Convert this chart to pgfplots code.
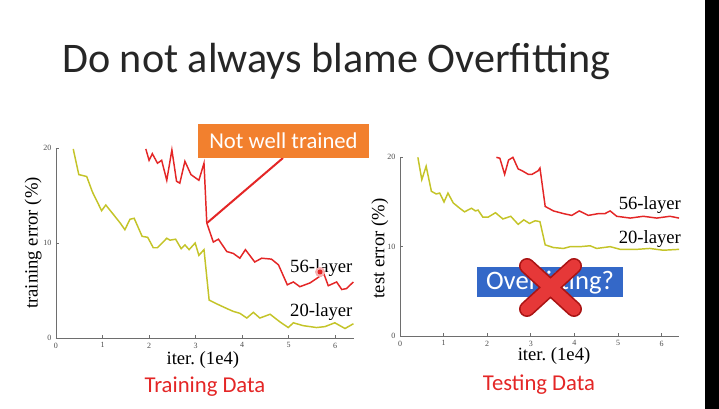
\documentclass[border=0pt]{standalone}
\usepackage{pgfplots}
\pgfplotsset{compat=1.18}
\usepackage{fontspec}
\setmainfont{Liberation Serif}
\newfontfamily\calibri{Carlito}
\definecolor{myred}{RGB}{228,38,38}
\definecolor{myyel}{RGB}{196,196,40}
\definecolor{orangebox}{RGB}{242,128,46}
\definecolor{bluebox}{RGB}{52,104,200}
\definecolor{xred}{RGB}{230,56,56}
\definecolor{xdark}{RGB}{170,20,20}
\definecolor{axgray}{RGB}{110,110,110}

\pgfplotsset{slidestyle/.style={
  scale only axis, axis lines=left,
  axis line style={-, draw=axgray, line width=0.6pt},
  xmin=0, xmax=6.4, ymin=0, ymax=20,
  xtick={0,...,6}, ytick={0,10,20},
  tick align=inside, major tick length=2pt,
  tick style={axgray, line width=0.5pt},
  tick label style={font=\fontsize{6}{6}\selectfont, text=black!70},
  /pgf/number format/assume math mode=true,
  label style={font=\fontsize{14}{14}\selectfont},
  clip=false,
}}

\begin{document}
\begin{tikzpicture}
\begin{scope}[x=0.75pt,y=-0.75pt]
  \useasboundingbox (0,0) rectangle (719,409);
  \fill[white] (0,0) rectangle (719,409);
  \fill[black] (705,0) rectangle (719,409);
  \node[anchor=base west, inner sep=0pt, text=black!85] at (62,73)
    {\calibri\fontsize{31.6}{31.6}\selectfont Do not always blame Overfitting};
\end{scope}

% Training error chart
\begin{axis}[slidestyle, at={(42pt,-253.5pt)}, anchor=south west,
  width=223.4pt, height=142.5pt,
  xlabel={iter.\ (1e4)}, ylabel={training error (\%)},
  xlabel style={at={(axis description cs:0.493,-0.116)}, anchor=center},
  ylabel style={at={(axis description cs:-0.077,0.5)}, anchor=center, rotate=0},
]
\addplot[myyel, line width=1.1pt] coordinates {
(0.37,19.9)(0.49,17.2)(0.66,17.0)(0.78,15.4)(0.98,13.4)(1.07,14.0)(1.25,12.9)(1.38,12.1)
(1.48,11.4)(1.59,12.5)(1.68,12.6)(1.85,10.7)(1.97,10.6)(2.09,9.5)(2.18,9.5)(2.38,10.5)
(2.45,10.3)(2.57,10.4)(2.69,9.4)(2.77,9.8)(2.86,9.3)(2.99,10.0)(3.07,8.7)(3.18,9.3)
(3.29,4.0)(3.45,3.6)(3.67,3.1)(3.81,2.8)(3.95,2.6)(4.10,2.1)(4.24,2.7)(4.38,2.1)
(4.60,2.5)(4.81,1.7)(4.99,1.1)(5.10,1.6)(5.31,1.3)(5.60,1.1)(5.78,1.2)(5.99,1.6)
(6.21,1.0)(6.39,1.5)};
\addplot[myred, line width=1.1pt] coordinates {
(1.93,19.9)(2.00,18.7)(2.07,19.4)(2.18,18.4)(2.27,18.7)(2.38,16.6)(2.49,19.8)(2.59,16.5)
(2.66,16.3)(2.77,18.6)(2.90,17.2)(3.07,16.6)(3.18,18.4)(3.24,12.1)(3.38,10.1)(3.49,10.4)
(3.67,9.1)(3.81,8.9)(3.95,8.4)(4.07,9.3)(4.27,8.0)(4.42,8.4)(4.63,8.3)(4.78,7.7)
(4.97,5.6)(5.10,5.9)(5.24,5.4)(5.46,5.8)(5.67,6.5)(5.76,6.7)(5.85,5.5)(6.03,5.9)
(6.14,5.1)(6.24,5.2)(6.39,5.9)};
\node[font=\fontsize{14}{14}\selectfont] at (axis cs:5.70,7.4) {56-layer};
\node[font=\fontsize{14}{14}\selectfont] at (axis cs:5.70,2.7) {20-layer};
\end{axis}

% Test error chart
\begin{axis}[slidestyle, at={(300pt,-252pt)}, anchor=south west,
  width=209.3pt, height=134pt,
  xlabel={iter.\ (1e4)}, ylabel={test error (\%)},
  xlabel style={at={(axis description cs:0.552,-0.112)}, anchor=center},
  ylabel style={at={(axis description cs:-0.072,0.49)}, anchor=center, rotate=0},
]
\addplot[myyel, line width=1.1pt] coordinates {
(0.41,20.0)(0.50,17.5)(0.60,19.0)(0.72,16.2)(0.83,15.9)(0.91,16.0)(1.01,15.0)(1.10,16.0)
(1.22,14.9)(1.37,14.3)(1.48,13.9)(1.64,14.3)(1.73,14.0)(1.79,14.1)(1.90,13.3)(2.02,13.3)
(2.19,13.8)(2.36,13.1)(2.54,13.4)(2.71,12.5)(2.84,13.0)(2.97,12.6)(3.10,12.9)(3.21,12.8)
(3.33,10.2)(3.52,9.9)(3.75,9.8)(3.90,10.0)(4.13,10.0)(4.36,10.1)(4.51,9.8)(4.82,10.0)
(5.05,9.7)(5.43,9.7)(5.73,9.8)(6.04,9.6)(6.40,9.7)};
\addplot[myred, line width=1.1pt] coordinates {
(2.21,20.0)(2.29,19.9)(2.40,18.1)(2.49,19.7)(2.59,20.0)(2.71,18.7)(2.80,18.5)(2.94,18.1)
(3.03,18.1)(3.17,18.5)(3.21,18.8)(3.33,14.5)(3.52,14.0)(3.75,13.7)(3.94,13.5)(4.11,14.0)
(4.32,13.5)(4.55,13.7)(4.70,13.7)(4.82,14.0)(4.97,13.4)(5.28,13.2)(5.58,13.4)(5.89,13.2)
(6.19,13.4)(6.40,13.2)};
\node[font=\fontsize{14}{14}\selectfont] at (axis cs:5.73,14.67) {56-layer};
\node[font=\fontsize{14}{14}\selectfont] at (axis cs:5.73,10.86) {20-layer};
\end{axis}

\begin{scope}[x=0.75pt,y=-0.75pt]
  % annotation: not well trained
  \draw[myred, line width=1.5pt] (207,223) -- (283,158);
  \fill[orangebox] (198,124) rectangle (369,158);
  \node[text=white, font=\calibri\fontsize{17}{17}\selectfont] at (283.5,141) {Not well trained};
  % laser dot
  \fill[myred!35] (320,272) circle (5);
  \fill[myred] (320,272) circle (2.5);
  % Overfitting box
  \fill[bluebox] (477,267) rectangle (623,297);
  \node[text=white, font=\calibri\fontsize{20}{20}\selectfont] at (550,283) {Overfitting?};
  \draw[xdark, line width=12pt, line cap=round] (527,266) -- (574,309) (574,266) -- (527,309);
  \draw[xred, line width=9.5pt, line cap=round] (527,266) -- (574,309) (574,266) -- (527,309);
  % captions
  \node[text=myred, font=\calibri\fontsize{17}{17}\selectfont] at (205,387) {Training Data};
  \node[text=myred, font=\calibri\fontsize{17}{17}\selectfont] at (539,385) {Testing Data};
\end{scope}
\end{tikzpicture}
\end{document}
